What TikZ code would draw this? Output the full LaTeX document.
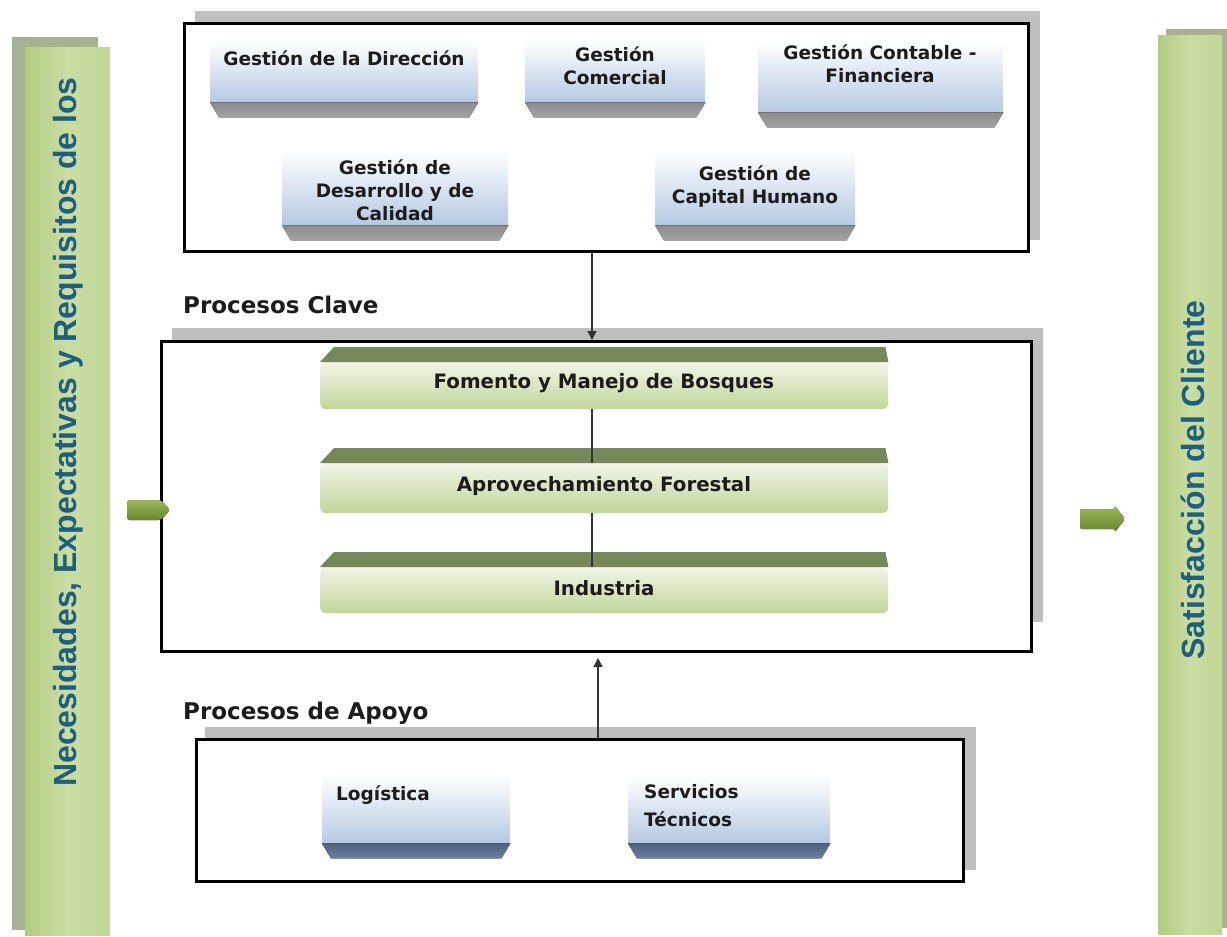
\documentclass[tikz,border=0pt]{standalone}
\usepackage{fontspec}
\setmainfont{DejaVu Sans}
\newfontfamily\sidefont{Liberation Sans}
\usetikzlibrary{arrows.meta,calc}
\definecolor{boxblue}{HTML}{B5C9E2}
\definecolor{bevelgray}{HTML}{8C8C8C}
\definecolor{bevelgraylt}{HTML}{A4A4A4}
\definecolor{bevelslate}{HTML}{4E6280}
\definecolor{bevelslatelt}{HTML}{6E80A0}
\definecolor{gtop}{HTML}{F1F5E6}
\definecolor{gbot}{HTML}{C2D59A}
\definecolor{gdark}{HTML}{76875A}
\definecolor{sideA}{HTML}{B3CC80}
\definecolor{sideB}{HTML}{CADDA3}
\definecolor{sideC}{HTML}{C1D696}
\definecolor{sideshadow}{HTML}{A7B295}
\definecolor{sidetext}{HTML}{1F5E7C}
\definecolor{shadowgray}{HTML}{BFBFBF}
\definecolor{txt}{HTML}{1C1C1C}
\definecolor{arrA}{HTML}{9DB85A}
\definecolor{arrB}{HTML}{67832F}
\newcommand\bevelbar[3]{%
  \fill[top color=#2, bottom color=#3] (#1.south west) -- (#1.south east)
    -- ([xshift=-9pt,yshift=-15pt]#1.south east) -- ([xshift=9pt,yshift=-15pt]#1.south west) -- cycle;}
\newcommand\greenstrip[1]{%
  \fill[gdark] (#1.north west) -- (#1.north east) -- ([xshift=-3pt,yshift=15pt]#1.north east)
    -- ([xshift=14pt,yshift=15pt]#1.north west) -- cycle;}
\begin{document}
\begin{tikzpicture}[x=1pt,y=-1pt,
  frame/.style={draw=black, line width=3pt, fill=white, inner sep=0pt, anchor=north west},
  shadowbox/.style={fill=shadowgray},
  bbody/.style={top color=white, bottom color=boxblue, inner sep=0pt, anchor=north west},
  gbody/.style={top color=gtop, bottom color=gbot, rounded corners=6pt, inner sep=0pt, anchor=north west, minimum width=568pt},
  lbl/.style={font=\bfseries\fontsize{18.5}{23}\selectfont, text=txt, align=center, inner sep=0pt},
  glbl/.style={font=\bfseries\fontsize{19.8}{24}\selectfont, text=txt, align=center, inner sep=0pt},
  head/.style={font=\bfseries\fontsize{23}{27}\selectfont, text=txt, anchor=west, inner sep=0pt},
  sidebar/.style={left color=sideA, right color=sideC, middle color=sideB, inner sep=0pt, anchor=north west},
  sidetxt/.style={font=\sidefont\bfseries\fontsize{32}{36}\selectfont, text=sidetext, rotate=90, inner sep=0pt},
  conn/.style={draw=black!80, line width=1.3pt},
  tip/.style={-{Triangle[length=9pt,width=9pt]}},
  garrow/.style={top color=arrA, bottom color=arrB, draw=none}
]
\useasboundingbox (0,0) rectangle (1227,937);
\fill[white] (0,0) rectangle (1227,937);

% side bars
\fill[sideshadow] (12,37) rectangle (98,930);
\node[sidebar, minimum width=85pt, minimum height=888pt] (need) at (25,47) {};
\node[sidetxt] (needtxt) at (68,432) {Necesidades, Expectativas y Requisitos de los};
\fill[sideshadow] (1166,29) rectangle (1227,928);
\node[sidebar, minimum width=64pt, minimum height=899pt] (sat) at (1158,35) {};
\node[sidetxt] (sattxt) at (1193,480) {Satisfacción del Cliente};

% top frame
\fill[shadowbox] (195,11) rectangle (1040,240);
\node[frame, minimum width=844pt, minimum height=228pt] (topframe) at (183,22) {};

\node[bbody, minimum width=268pt, minimum height=62pt] (dir) at (210,40) {};
\bevelbar{dir}{bevelgray}{bevelgraylt}
\node[lbl] (dirt) at (344,58) {Gestión de la Dirección};

\node[bbody, minimum width=180pt, minimum height=62pt] (com) at (525,40) {};
\bevelbar{com}{bevelgray}{bevelgraylt}
\node[lbl] (comt) at (615,66) {Gestión\\Comercial};

\node[bbody, minimum width=245pt, minimum height=72pt] (cont) at (758,40) {};
\bevelbar{cont}{bevelgray}{bevelgraylt}
\node[lbl] (contt) at (880,64) {Gestión Contable -\\Financiera};

\node[bbody, minimum width=226pt, minimum height=75pt] (des) at (282,150) {};
\node[lbl] (dest) at (395,190) {Gestión de\\Desarrollo y de\\Calidad};
\bevelbar{des}{bevelgray}{bevelgraylt}

\node[bbody, minimum width=200pt, minimum height=75pt] (cap) at (655,150) {};
\bevelbar{cap}{bevelgray}{bevelgraylt}
\node[lbl] (capt) at (755,187) {Gestión de\\Capital Humano};

% key processes
\node[head] (clave) at (183,305) {Procesos Clave};
\fill[shadowbox] (172,328) rectangle (1043,622);
\node[frame, minimum width=870pt, minimum height=310pt] (midframe) at (160,340) {};

\coordinate (cx) at (592,0);
\node[gbody, minimum height=47pt] (fom) at (320,362) {};
\greenstrip{fom}
\node[glbl] (fomt) at (604,383) {Fomento y Manejo de Bosques};
\node[gbody, minimum height=50pt] (apr) at (320,463) {};
\greenstrip{apr}
\node[glbl] (aprt) at (604,486) {Aprovechamiento Forestal};
\node[gbody, minimum height=46pt] (ind) at (320,567) {};
\greenstrip{ind}
\node[glbl] (indt) at (604,588) {Industria};

\draw[conn] (fom.south -| cx) -- (apr.north -| cx);
\draw[conn] (apr.south -| cx) -- (ind.north -| cx);
\draw[conn, tip] (topframe.south -| cx) -- (midframe.north -| cx);

% support processes
\node[head] (apoyo) at (183,713) {Procesos de Apoyo};
\fill[shadowbox] (205,727) rectangle (976,870);
\node[frame, minimum width=767pt, minimum height=142pt] (botframe) at (195,738) {};

\node[bbody, minimum width=188pt, minimum height=68pt] (log) at (322,775) {};
\bevelbar{log}{bevelslate}{bevelslatelt}
\node[lbl, anchor=west] (logt) at (336,795) {Logística};

\node[bbody, minimum width=202pt, minimum height=68pt] (ser) at (628,775) {};
\bevelbar{ser}{bevelslate}{bevelslatelt}
\node[lbl, anchor=west, align=left, font=\bfseries\fontsize{18.5}{28}\selectfont] (sert) at (644,806) {Servicios\\Técnicos};

\coordinate (bx) at (598,0);
\draw[conn, tip, shorten >=5pt] (botframe.north -| bx) -- (midframe.south -| bx);

% input / output arrows
\coordinate (inA) at (127,510);
\coordinate (outA) at (1080,519);
\fill[garrow, rounded corners=3pt] (inA) ++(0,-10) -- ++(34,0) -- ++(9,10) -- ++(-9,10) -- ++(-34,0) -- cycle;
\fill[garrow, rounded corners=2pt] (outA) ++(0,-10) -- ++(35,0) -- ++(0,-3) -- ++(10,13) -- ++(-10,13) -- ++(0,-3) -- ++(-35,0) -- cycle;
\end{tikzpicture}
\end{document}
